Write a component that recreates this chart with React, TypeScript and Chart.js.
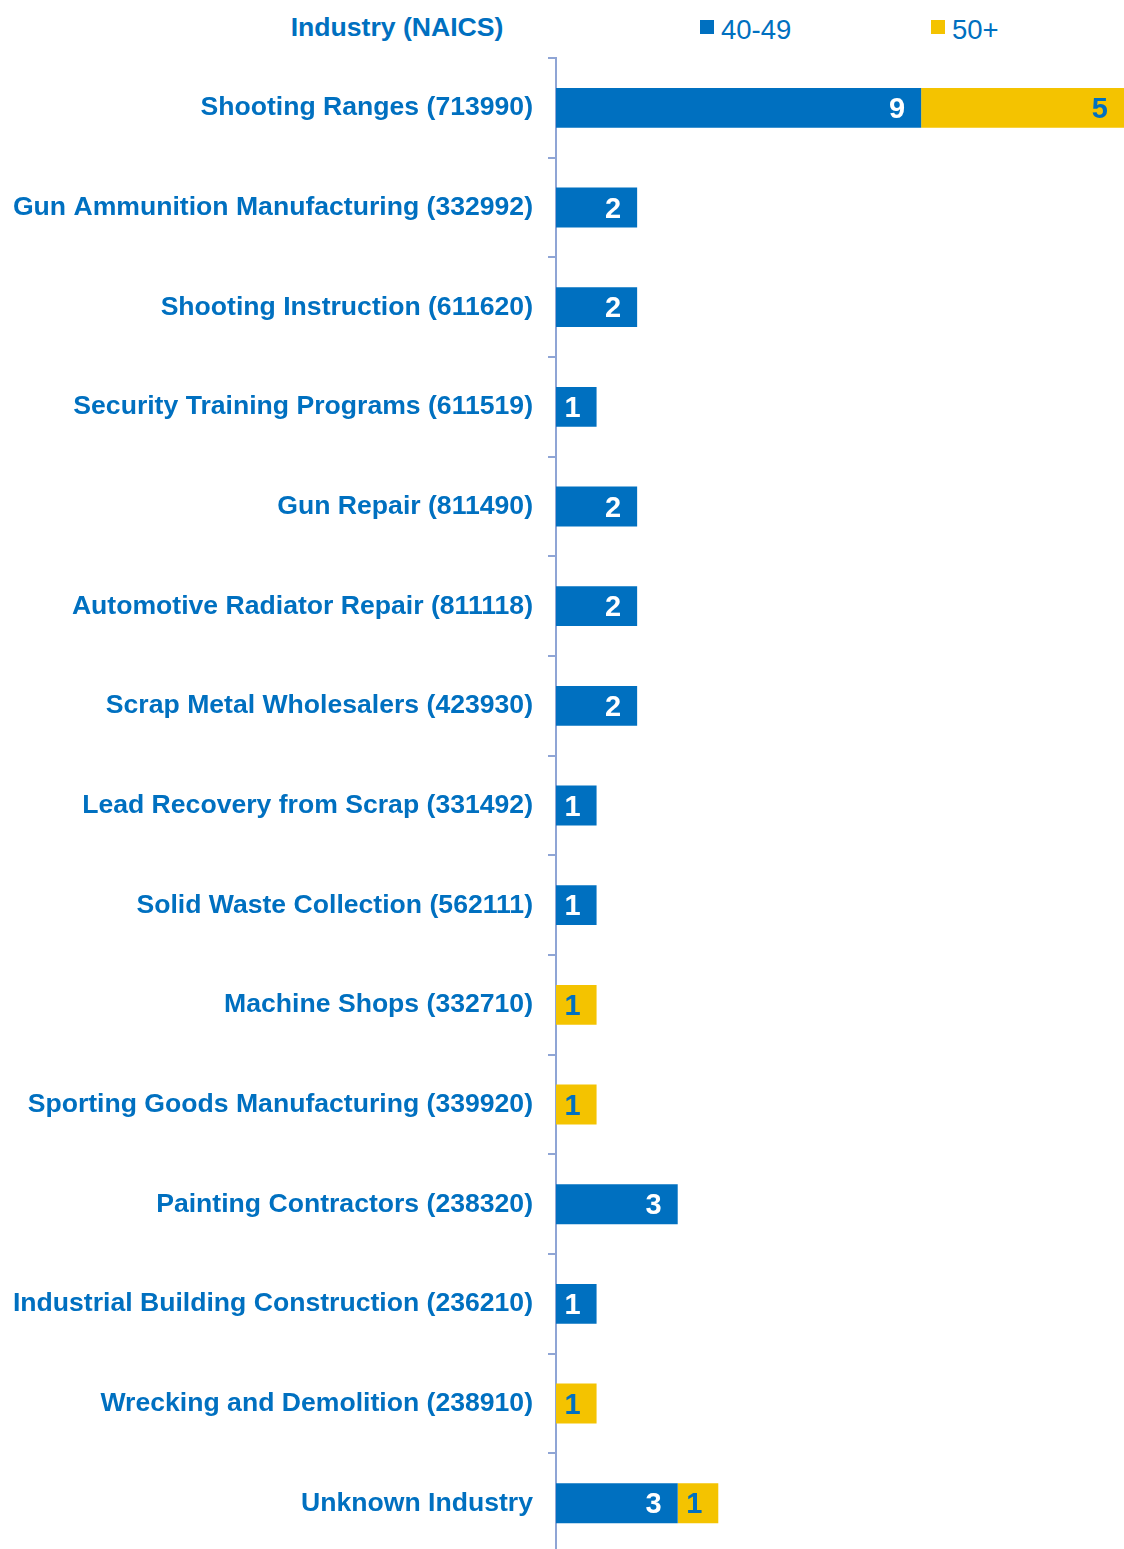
import React, { useEffect, useRef } from "react";
import { Chart, registerables } from "chart.js";

Chart.register(...registerables);

const categories = [
  "Shooting Ranges (713990)",
  "Gun Ammunition Manufacturing (332992)",
  "Shooting Instruction (611620)",
  "Security Training Programs (611519)",
  "Gun Repair (811490)",
  "Automotive Radiator Repair (811118)",
  "Scrap Metal Wholesalers (423930)",
  "Lead Recovery from Scrap (331492)",
  "Solid Waste Collection (562111)",
  "Machine Shops (332710)",
  "Sporting Goods Manufacturing (339920)",
  "Painting Contractors (238320)",
  "Industrial Building Construction (236210)",
  "Wrecking and Demolition (238910)",
  "Unknown Industry",
];
const series40to49 = [9, 2, 2, 1, 2, 2, 2, 1, 1, 0, 0, 3, 1, 0, 3];
const series50plus = [5, 0, 0, 0, 0, 0, 0, 0, 0, 1, 1, 0, 0, 1, 1];
const seriesNames = ["40-49", "50+"];
const BLUE = "#0070C0";
const GOLD = "#F4C300";
const FONT = "'Liberation Sans', Arial, sans-serif";

const valueLabels = {
  id: "valueLabels",
  afterDatasetsDraw(chart: any) {
    const ctx = chart.ctx;
    ctx.save();
    ctx.font = `bold 29px ${FONT}`;
    ctx.textAlign = "right";
    ctx.textBaseline = "middle";
    chart.data.datasets.forEach((ds: any, di: number) => {
      const meta = chart.getDatasetMeta(di);
      meta.data.forEach((el: any, i: number) => {
        const v = ds.data[i];
        if (!v) return;
        ctx.fillStyle = di === 0 ? "#FFFFFF" : BLUE;
        ctx.fillText(String(v), el.x - 16, el.y + 2);
      });
    });
    ctx.restore();
  },
};

export default function App() {
  const ref = useRef<HTMLCanvasElement>(null);
  useEffect(() => {
    if (!ref.current) return;
    const chart = new Chart(ref.current, {
      type: "bar",
      data: {
        labels: categories,
        datasets: [
          { label: seriesNames[0], data: series40to49, backgroundColor: BLUE, barPercentage: 0.4, categoryPercentage: 1 },
          { label: seriesNames[1], data: series50plus, backgroundColor: GOLD, barPercentage: 0.4, categoryPercentage: 1 },
        ],
      },
      options: {
        indexAxis: "y",
        animation: false,
        responsive: false,
        maintainAspectRatio: false,
        layout: { padding: { top: 58, bottom: 6, left: 0, right: 0 } },
        plugins: { legend: { display: false }, tooltip: { enabled: false } },
        scales: {
          x: {
            stacked: true,
            min: 0,
            max: 14,
            display: false,
          },
          y: {
            stacked: true,
            afterFit(scale: any) {
              scale.width = 556;
            },
            border: { display: true, color: "#8FA5D5", width: 2 },
            grid: {
              offset: true,
              drawOnChartArea: false,
              drawTicks: true,
              tickLength: 8,
              color: "#8FA5D5",
              lineWidth: 2,
            },
            ticks: {
              color: BLUE,
              padding: 15,
              autoSkip: false,
              font: { family: FONT, size: 26.6, weight: "bold" },
            },
          },
        },
      },
      plugins: [valueLabels],
    } as any);
    return () => chart.destroy();
  }, []);

  return (
    <div style={{ position: "absolute", left: 0, top: 0, width: 1124, height: 1584, background: "#fff" }}>
      <div
        style={{
          position: "absolute",
          left: 0,
          width: 794,
          top: 12,
          lineHeight: "28px",
          textAlign: "center",
          font: `bold 26.6px ${FONT}`,
          color: BLUE,
        }}
      >
        Industry (NAICS)
      </div>
      <div style={{ position: "absolute", left: 700, top: 20, width: 14, height: 14, background: BLUE }} />
      <div style={{ position: "absolute", left: 721, top: 14, lineHeight: "28px", font: `27.5px ${FONT}`, color: BLUE }}>
        {seriesNames[0]}
      </div>
      <div style={{ position: "absolute", left: 931, top: 20, width: 14, height: 14, background: GOLD }} />
      <div style={{ position: "absolute", left: 952, top: 14, lineHeight: "28px", font: `27.5px ${FONT}`, color: BLUE }}>
        {seriesNames[1]}
      </div>
      <canvas ref={ref} width={1124} height={1584} style={{ position: "absolute", left: 0, top: 0 }} />
    </div>
  );
}
